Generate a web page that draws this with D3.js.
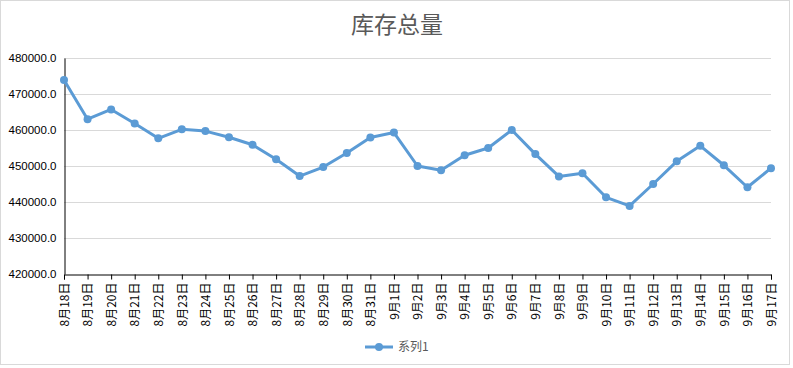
<!DOCTYPE html>
<html>
<head>
<meta charset="utf-8">
<script src="https://cdn.jsdelivr.net/npm/d3@7"></script>
<style>
  body { margin: 0; background: #fff; }
  svg { display: block; }
</style>
</head>
<body>
<svg width="793" height="368"></svg>
<script>
// chart data
var dates = ["8月18日","8月19日","8月20日","8月21日","8月22日","8月23日","8月24日","8月25日",
  "8月26日","8月27日","8月28日","8月29日","8月30日","8月31日","9月1日","9月2日","9月3日",
  "9月4日","9月5日","9月6日","9月7日","9月8日","9月9日","9月10日","9月11日","9月12日",
  "9月13日","9月14日","9月15日","9月16日","9月17日"];
var stock = [473900, 463000, 465700, 461800, 457700, 460200, 459700, 458000,
  455900, 451900, 447200, 449700, 453600, 457900, 459300, 450000, 448800,
  453000, 455000, 460000, 453300, 447100, 448000, 441300, 438900, 445000,
  451300, 455600, 450200, 444100, 449400];
var yTicks = [420000, 430000, 440000, 450000, 460000, 470000, 480000];
var seriesName = "系列1";
var title = "库存总量";

var svg = d3.select("svg");

var color = "#5b9bd5";
var font = "'Liberation Sans', Arial, 'Noto Sans CJK SC', sans-serif";

// outer frame
svg.append("rect")
    .attr("x", 0.5).attr("y", 0.5)
    .attr("width", 789).attr("height", 364)
    .attr("fill", "#fff")
    .attr("stroke", "#d9d9d9");

// plot area (named to avoid window.top)
var plot = { left: 64, right: 771, top: 58, bottom: 274 };

var x = d3.scalePoint()
    .domain(dates)
    .range([plot.left, plot.right]);

var y = d3.scaleLinear()
    .domain([420000, 480000])
    .range([plot.bottom, plot.top]);

// title
svg.append("text")
    .attr("x", 397)
    .attr("y", 33)
    .attr("text-anchor", "middle")
    .attr("font-family", "'Noto Sans CJK SC', sans-serif")
    .attr("font-size", 23)
    .attr("fill", "#595959")
    .text(title);

// gridlines
svg.append("g")
    .selectAll("line")
    .data(yTicks.slice(1))
    .enter().append("line")
      .attr("x1", plot.left).attr("x2", plot.right)
      .attr("y1", function(d) { return Math.round(y(d)) + 0.5; })
      .attr("y2", function(d) { return Math.round(y(d)) + 0.5; })
      .attr("stroke", "#d9d9d9");

// y axis
var yAxis = svg.append("g")
    .attr("transform", "translate(" + (plot.left + 0.5) + ",0)")
    .call(d3.axisLeft(y).tickValues(yTicks).tickSize(0).tickPadding(8)
      .tickFormat(function(d) { return d3.format(".1f")(d); }));
yAxis.select(".domain").attr("stroke", "#000");
yAxis.selectAll("text")
    .attr("font-family", font)
    .attr("font-size", 11.5)
    .attr("fill", "#000");

// x axis
var xAxis = svg.append("g")
    .attr("transform", "translate(0," + (plot.bottom + 0.5) + ")")
    .call(d3.axisBottom(x).tickSizeOuter(0).tickSize(5).tickPadding(3));
xAxis.select(".domain").attr("stroke", "#000");
xAxis.selectAll(".tick line").attr("stroke", "#000");
xAxis.selectAll("text")
    .attr("font-family", "'Noto Sans CJK SC', sans-serif")
    .attr("font-size", 12)
    .attr("fill", "#000")
    .attr("text-anchor", "end")
    .attr("dy", "0.35em")
    .attr("transform", "translate(0,8) rotate(-90)")
    .attr("x", 0)
    .attr("y", 0);

// line
var line = d3.line()
    .x(function(d, i) { return x(dates[i]); })
    .y(function(d) { return y(d); });

svg.append("path")
    .datum(stock)
    .attr("d", line)
    .attr("fill", "none")
    .attr("stroke", color)
    .attr("stroke-width", 3)
    .attr("stroke-linejoin", "round");

svg.append("g")
    .selectAll("circle")
    .data(stock)
    .enter().append("circle")
      .attr("cx", function(d, i) { return x(dates[i]); })
      .attr("cy", function(d) { return y(d); })
      .attr("r", 4)
      .attr("fill", color);

// legend
var legend = svg.append("g").attr("transform", "translate(365,347)");
legend.append("line")
    .attr("x1", 0).attr("x2", 28)
    .attr("stroke", color).attr("stroke-width", 3);
legend.append("circle")
    .attr("cx", 14).attr("r", 4).attr("fill", color);
legend.append("text")
    .attr("x", 33).attr("dy", "0.35em")
    .attr("font-family", "'Noto Sans CJK SC', sans-serif")
    .attr("font-size", 12)
    .attr("fill", "#595959")
    .text(seriesName);
</script>
</body>
</html>
